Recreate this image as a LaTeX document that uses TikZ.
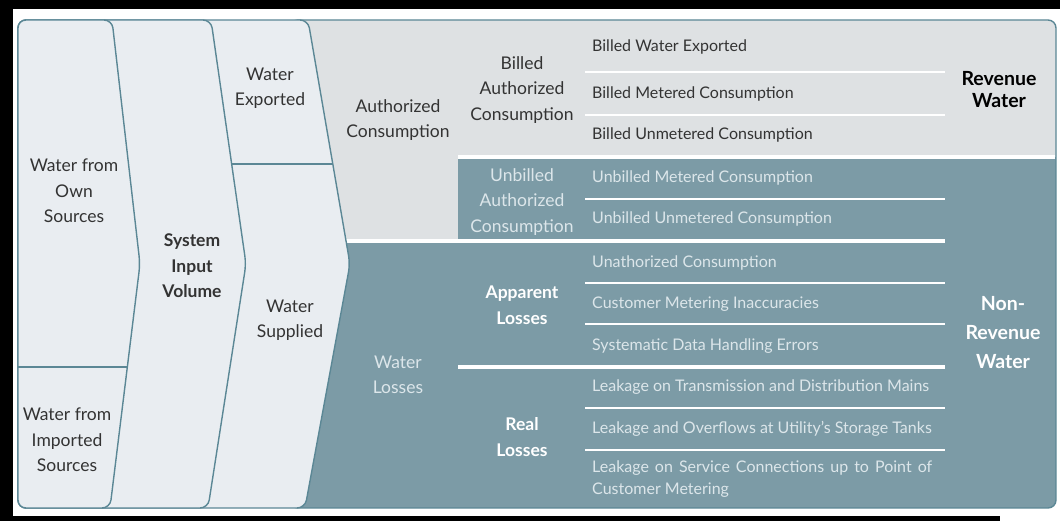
\documentclass[tikz,border=0pt]{standalone}
\usepackage{fontspec}
\setmainfont{Lato}
\usepackage{xcolor}
\definecolor{colfill}{HTML}{E9EDF1}
\definecolor{tealline}{HTML}{5B8795}
\definecolor{lightarea}{HTML}{DEE1E3}
\definecolor{darkarea}{HTML}{7C9BA6}
\definecolor{ink}{HTML}{333333}
\definecolor{paletext}{HTML}{DCE6EA}

\begin{document}
\begin{tikzpicture}[x=1pt,y=-1pt,
    lbl/.style={align=center,text=ink,inner sep=0pt,font=\fontsize{17.5}{25.5}\selectfont},
    hlbl/.style={lbl,font=\fontsize{17.5}{25.5}\selectfont\bfseries},
    pale/.style={text=paletext},
    row/.style={anchor=west,inner sep=0pt,text=ink,font=\fontsize{16}{22}\selectfont},
    col/.style={fill=colfill,draw=tealline,line width=1.4pt,rounded corners=8pt},
    sep/.style={white,line width=1.6pt},
    thicksep/.style={white,line width=3.5pt}]
    \useasboundingbox (0,0) rectangle (1060,521);
    \fill[black] (0,0) rectangle (1060,521);
    \fill[white] (13,9) rectangle (1060,516);
    \fill[white] (1000,516) rectangle (1060,521);

    \fill[lightarea,rounded corners=8pt] (290,20) rectangle (1056,508);
    \begin{scope}
        \clip[rounded corners=8pt] (290,20) rectangle (1056,508);
        \fill[darkarea] (458,157) rectangle (1056,508);
        \fill[darkarea] (290,241) rectangle (1056,508);
    \end{scope}
    \draw[tealline,line width=1.4pt,rounded corners=8pt] (290,20) rectangle (1056,508);

    \draw[thicksep] (458,157) -- (1055,157);
    \draw[thicksep] (340,241) -- (945,241);
    \draw[thicksep] (458,367) -- (945,367);
    \foreach \y in {72,115,199,283,324,408,450}
        \draw[sep] (585,\y) -- (945,\y);

    \draw[col] (18,20) -- (308,20) -- (350,264) -- (305,508) -- (18,508) -- cycle;
    \draw[col] (18,20) -- (211,20) -- (246,264) -- (208,508) -- (18,508) -- cycle;
    \draw[col] (18,20) -- (112,20) -- (140,264) -- (110,508) -- (18,508) -- cycle;
    \draw[tealline,line width=1.4pt] (18,367) -- (127,367);
    \draw[tealline,line width=1.4pt] (232,164) -- (333,164);

    \node[lbl] (own) at (74,191) {Water from\\Own\\Sources};
    \node[lbl] (imported) at (67,440) {Water from\\Imported\\Sources};
    \node[hlbl] (input) at (192,266) {System\\Input\\Volume};
    \node[lbl] (exported) at (270,88) {Water\\Exported};
    \node[lbl] (supplied) at (290,320) {Water\\Supplied};
    \node[lbl] (authorized) at (398,120) {Authorized\\Consumption};
    \node[lbl,pale] (losses) at (398,375) {Water\\Losses};
    \node[lbl] (billed) at (522,90) {Billed\\Authorized\\Consumption};
    \node[lbl,pale] (unbilled) at (522,202) {Unbilled\\Authorized\\Consumption};
    \node[hlbl,text=white] (apparent) at (522,305) {Apparent\\Losses};
    \node[hlbl,text=white] (real) at (522,437) {Real\\Losses};

    \node[row] (bwe) at (592,47) {Billed Water Exported};
    \node[row] (bmc) at (592,94) {Billed Metered Consumption};
    \node[row] (buc) at (592,135) {Billed Unmetered Consumption};
    \node[row,pale] (umc) at (592,178) {Unbilled Metered Consumption};
    \node[row,pale] (uuc) at (592,219) {Unbilled Unmetered Consumption};
    \node[row,pale] (unauth) at (592,263) {Unathorized Consumption};
    \node[row,pale] (metering) at (592,304) {Customer Metering Inaccuracies};
    \node[row,pale] (handling) at (592,346) {Systematic Data Handling Errors};
    \node[row,pale] (mains) at (592,387) {Leakage on Transmission and Distribution Mains};
    \node[row,pale] (tanks) at (592,429) {Leakage and Overflows at Utility's Storage Tanks};
    \node[row,pale,text width=340pt,align=justify] (service) at (592,479)
        {Leakage on Service Connections up to Point of\linebreak Customer Metering};

    \node[hlbl,text=black,font=\fontsize{19.5}{22}\selectfont\bfseries] (revenue) at (999,90) {Revenue\\Water};
    \node[hlbl,text=white,font=\fontsize{19.5}{29}\selectfont\bfseries] (nonrevenue) at (1003,333) {Non-\\Revenue\\Water};
\end{tikzpicture}
\end{document}
